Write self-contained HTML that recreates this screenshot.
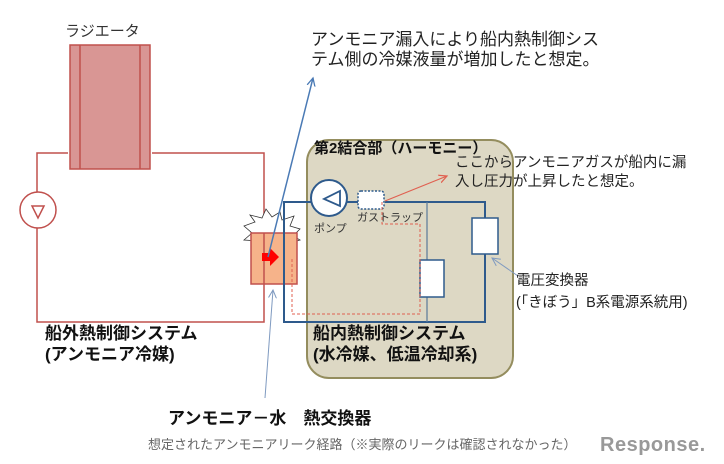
<!DOCTYPE html>
<html><head><meta charset="utf-8"><style>
html,body{margin:0;padding:0;background:#fff;width:724px;height:464px;overflow:hidden}
svg{display:block}
text{font-family:"Liberation Sans","Noto Sans CJK JP",sans-serif}
</style></head><body>
<svg width="724" height="464" viewBox="0 0 724 464" xmlns="http://www.w3.org/2000/svg">
<defs>
<marker id="ab" markerWidth="10" markerHeight="10" refX="8" refY="5" orient="auto" markerUnits="userSpaceOnUse"><path d="M0,1 L8,5 L0,9" fill="none" stroke="#4a7ab5" stroke-width="1.3"/></marker>
<marker id="ar" markerWidth="10" markerHeight="10" refX="8" refY="5" orient="auto" markerUnits="userSpaceOnUse"><path d="M0,1 L8,5 L0,9" fill="none" stroke="#e06050" stroke-width="1.2"/></marker>
<marker id="ag" markerWidth="10" markerHeight="10" refX="8" refY="5" orient="auto" markerUnits="userSpaceOnUse"><path d="M0,1 L8,5 L0,9" fill="none" stroke="#7f9ac0" stroke-width="1"/></marker>
</defs>
<rect x="307" y="140" width="206" height="238" rx="22" fill="#ddd8c4" stroke="#948d5e" stroke-width="2"/>
<path d="M68,153 H37 V192 M37,228 V322 H264 V153 H152" fill="none" stroke="#c0504d" stroke-width="1.5"/>
<circle cx="38" cy="210" r="18" fill="#fff" stroke="#c0504d" stroke-width="1.5"/>
<path d="M32,206 L44,206 L38,218 Z" fill="none" stroke="#c0504d" stroke-width="1.5"/>
<rect x="70" y="45" width="80" height="124" fill="#d99694" stroke="#c0504d" stroke-width="1.5"/>
<line x1="80" y1="45" x2="80" y2="169" stroke="#c0504d" stroke-width="1.5"/>
<line x1="140" y1="45" x2="140" y2="169" stroke="#c0504d" stroke-width="1.5"/>
<path d="M244,226 L255,222 L250,215 L262,218 L266,209 L272,217 L280,212 L282,220 L294,216 L290,226 L300,229 L293,236 L300,240 L290,243 L244,240 L252,233 Z" fill="#fff" stroke="#333" stroke-width="0.8"/>
<rect x="251" y="233" width="46" height="51" fill="#f6b38a" stroke="#c0504d" stroke-width="1.5"/>
<line x1="264" y1="233" x2="264" y2="284" stroke="#c0504d" stroke-width="1.5"/>
<path d="M311,202 H284 V322 H485 V254 M485,218 V202 H385 M358,202 H347" fill="none" stroke="#2e5a8c" stroke-width="2"/>
<line x1="427" y1="202" x2="427" y2="260" stroke="#5a7a9a" stroke-width="1.2"/>
<line x1="427" y1="297" x2="427" y2="322" stroke="#5a7a9a" stroke-width="1.2"/>
<circle cx="329" cy="198" r="18" fill="#fff" stroke="#2e5a8c" stroke-width="2"/>
<path d="M340,191 L340,206 L324,199 Z" fill="none" stroke="#2e5a8c" stroke-width="1.8"/>
<rect x="358" y="191" width="26" height="18" rx="3" fill="#fff" stroke="#2e5a8c" stroke-width="1.5" stroke-dasharray="2,1.5"/>
<rect x="420" y="260" width="24" height="37" fill="#fff" stroke="#2e5a8c" stroke-width="1.5"/>
<rect x="472" y="218" width="26" height="36" fill="#fff" stroke="#2e5a8c" stroke-width="1.5"/>
<path d="M382,202 V224 H420 V314 H292 V258" fill="none" stroke="#e06050" stroke-width="1" stroke-dasharray="3,2"/>
<path d="M262,253 H270 V248 L279,257 L270,266 V261 H262 Z" fill="#ff0000"/>
<line x1="268" y1="257" x2="313" y2="78" stroke="#4a7ab5" stroke-width="1.5" marker-end="url(#ab)"/>
<line x1="385" y1="201" x2="447" y2="176" stroke="#e06050" stroke-width="1.2" marker-end="url(#ar)"/>
<line x1="265" y1="398" x2="273" y2="290" stroke="#7f9ac0" stroke-width="1" marker-end="url(#ag)"/>
<line x1="518" y1="276" x2="492" y2="258" stroke="#7f9ac0" stroke-width="1" marker-end="url(#ag)"/>
<text x="65" y="36" font-size="15" fill="#333">ラジエータ</text>
<text x="311" y="45" font-size="17" fill="#222">アンモニア漏入により船内熱制御シス</text>
<text x="311" y="65" font-size="17" fill="#222">テム側の冷媒液量が増加したと想定。</text>
<text x="314" y="153" font-size="15" font-weight="bold" fill="#111">第2結合部（ハーモニー）</text>
<text x="455" y="167" font-size="14.5" fill="#222">ここからアンモニアガスが船内に漏</text>
<text x="455" y="186" font-size="14.5" fill="#222">入し圧力が上昇したと想定。</text>
<text x="314" y="232" font-size="11" fill="#333">ポンプ</text>
<text x="357" y="221" font-size="11" fill="#333">ガストラップ</text>
<text x="516" y="285" font-size="14.5" fill="#222">電圧変換器</text>
<text x="516" y="307" font-size="14.5" fill="#222">(「きぼう」B系電源系統用)</text>
<text x="45" y="339" font-size="17" font-weight="bold" fill="#111">船外熱制御システム</text>
<text x="45" y="360" font-size="17" font-weight="bold" fill="#111">(アンモニア冷媒)</text>
<text x="313" y="339" font-size="17" font-weight="bold" fill="#111">船内熱制御システム</text>
<text x="313" y="360" font-size="17" font-weight="bold" fill="#111">(水冷媒、低温冷却系)</text>
<text x="168" y="424" font-size="17" font-weight="bold" fill="#111">アンモニア－水　熱交換器</text>
<text x="148" y="449" font-size="13" fill="#666">想定されたアンモニアリーク経路（※実際のリークは確認されなかった）</text>
<text x="600" y="451" font-size="20" fill="#999" font-weight="bold" letter-spacing="0.5">Response.</text>
</svg>
</body></html>
